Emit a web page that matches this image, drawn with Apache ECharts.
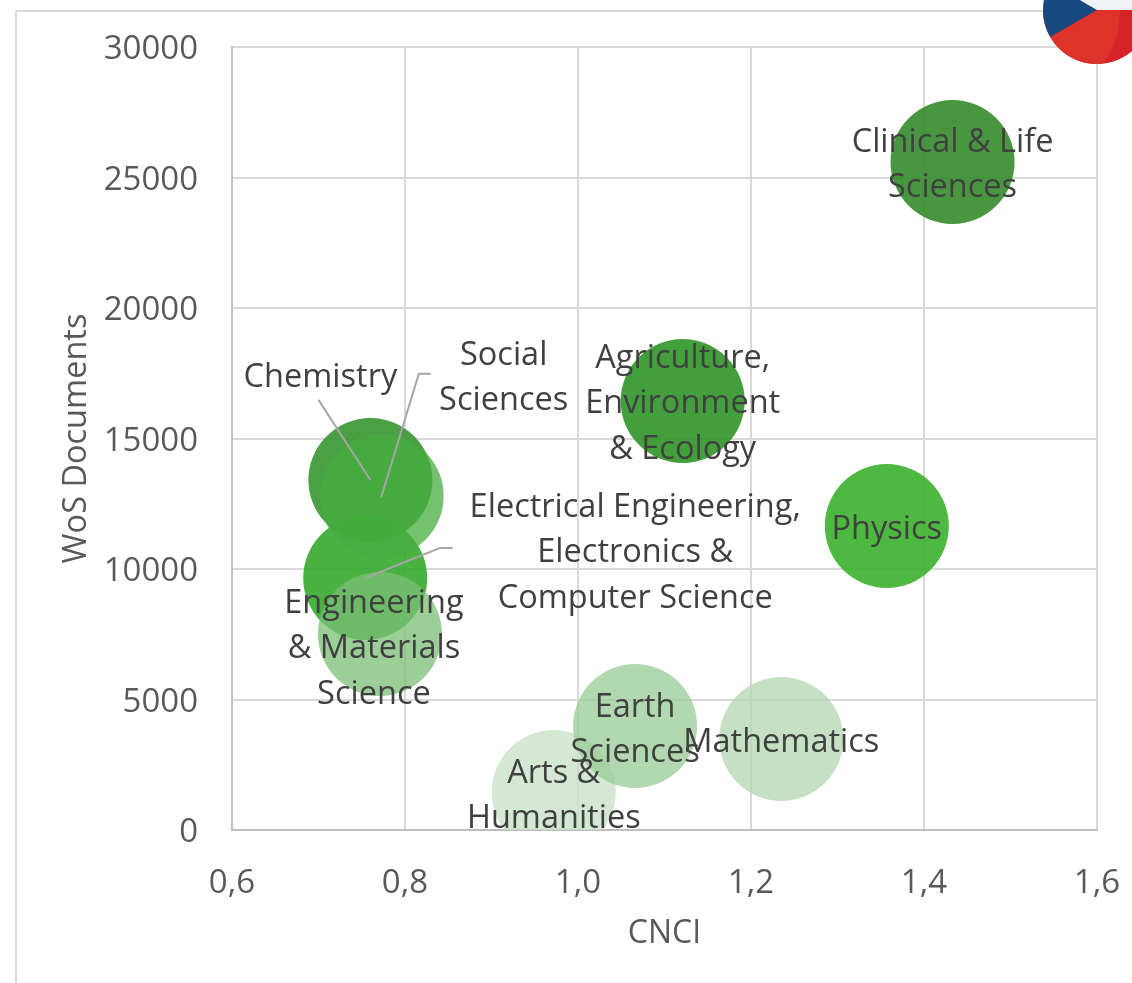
<!DOCTYPE html>
<html>
<head>
<meta charset="utf-8">
<title>WoS Documents vs CNCI</title>
<script src="https://cdn.jsdelivr.net/npm/echarts@6/dist/echarts.min.js"></script>
<style>
  html, body { margin: 0; padding: 0; background: #fff; }
  #chart { width: 1132px; height: 983px; }
</style>
</head>
<body>
<div id="chart"></div>
<script>
// values, in drawing order (later ones sit on top)
const fields = ['Arts & Humanities', 'Clinical & Life Sciences', 'Agriculture, Environment & Ecology', 'Chemistry', 'Physics',
  'Electrical Engineering, Electronics & Computer Science', 'Social Sciences',
  'Engineering & Materials Science', 'Earth Sciences', 'Mathematics']
const cnci = [0.972, 1.433, 1.121, 0.76, 1.357, 0.754, 0.773, 0.771, 1.066, 1.235]
const documents = [1456, 25594, 16437, 13410, 11648, 9655, 12797, 7510, 3985, 3487]

// leader lines, in data coordinates
const chemistryLeader = [[0.70, 16480], [0.76, 13410]]
const socialLeader = [[0.7725, 12750], [0.816, 17480], [0.83, 17480]]
const electricalLeader = [[0.754, 9655], [0.84, 10800], [0.855, 10800]]

const fieldColors = {
  'Clinical & Life Sciences': 'rgba(47,136,37,0.88)',
  'Agriculture, Environment & Ecology': 'rgba(40,146,32,0.88)',
  'Chemistry': 'rgba(50,146,43,0.88)',
  'Physics': 'rgba(52,175,37,0.88)',
  'Electrical Engineering, Electronics & Computer Science': 'rgba(49,167,37,0.88)',
  'Social Sciences': 'rgba(70,174,64,0.75)',
  'Engineering & Materials Science': 'rgba(123,191,118,0.75)',
  'Earth Sciences': 'rgba(151,203,147,0.75)',
  'Mathematics': 'rgba(178,214,175,0.75)',
  'Arts & Humanities': 'rgba(199,224,196,0.75)'
}

// where each label sits relative to its bubble centre, px
const labelOffset = {
  'Arts & Humanities': [0, 4],
  'Mathematics': [0, 4],
  'Earth Sciences': [0, 4],
  'Engineering & Materials Science': [-6, 15],
  'Social Sciences': [122, -118],
  'Electrical Engineering, Electronics & Computer Science': [270, -25],
  'Physics': [0, 4],
  'Chemistry': [-50, -102],
  'Agriculture, Environment & Ecology': [0, 3],
  'Clinical & Life Sciences': [0, 3]
}
const labelText = {
  'Arts & Humanities': 'Arts &\nHumanities',
  'Earth Sciences': 'Earth\nSciences',
  'Engineering & Materials Science': 'Engineering\n& Materials\nScience',
  'Social Sciences': 'Social\nSciences',
  'Electrical Engineering, Electronics & Computer Science': 'Electrical Engineering,\nElectronics &\nComputer Science',
  'Agriculture, Environment & Ecology': 'Agriculture,\nEnvironment\n& Ecology',
  'Clinical & Life Sciences': 'Clinical & Life\nSciences'
}

const FONT = '"Open Sans", sans-serif'
const BUBBLE_RADIUS = 62
const points = fields.map((name, i) => [cnci[i], documents[i]])
const chart = echarts.init(document.getElementById('chart'))

function leaderSeries(points) {
  return {
    type: 'line', data: points, symbol: 'none', silent: true, z: 5,
    lineStyle: { color: '#a6a6a6', width: 2 }
  }
}

// bubbles are cut off at the plot edge, scatter only drops whole points so use custom
function renderBubble(params, api) {
  const c = api.coord([api.value(0), api.value(1)])
  return {
    type: 'circle',
    shape: { cx: c[0], cy: c[1], r: BUBBLE_RADIUS },
    style: { fill: fieldColors[fields[params.dataIndex]] }
  }
}

// lighter part of the flag's red half: circle arc, closed by a shallow curve
function flagHighlight() {
  const cx = 1097, cy = 10, r = 54
  const pts = []
  for (let a = 180; a >= 82; a -= 4) {
    const t = a * Math.PI / 180
    pts.push([cx + r * Math.cos(t), cy + r * Math.sin(t)])
  }
  pts.push([1112, 50], [1118, 32], [1120, 10])
  return pts
}

chart.setOption({
  animation: false,
  backgroundColor: '#fff',
  grid: { left: 232, right: 35, top: 47, bottom: 153 },
  xAxis: {
    type: 'value', min: 0.6, max: 1.6, interval: 0.2,
    name: 'CNCI', nameLocation: 'middle', nameGap: 88,
    nameTextStyle: { color: '#595959', fontFamily: FONT, fontSize: 32 },
    axisLine: { onZero: false, lineStyle: { color: '#bfbfbf', width: 2 } },
    axisTick: { show: false },
    axisLabel: { color: '#595959', fontFamily: FONT, fontSize: 33, margin: 37,
      formatter: v => v.toFixed(1).replace('.', ',') },
    splitLine: { show: true, lineStyle: { color: '#d9d9d9', width: 2 } }
  },
  yAxis: {
    type: 'value', min: 0, max: 30000, interval: 5000,
    name: 'WoS Documents', nameLocation: 'middle', nameGap: 139,
    nameTextStyle: { color: '#595959', fontFamily: FONT, fontSize: 32.5 },
    axisLine: { show: true, lineStyle: { color: '#bfbfbf', width: 2 } },
    axisTick: { show: false },
    axisLabel: { margin: 34, formatter: v => '{tick|' + v + '}',
      rich: { tick: { color: '#595959', fontFamily: FONT, fontSize: 33, padding: [6, 0, 0, 0] } } },
    splitLine: { show: true, lineStyle: { color: '#d9d9d9', width: 2 } }
  },
  series: [
    { type: 'custom', clip: true, silent: true, z: 3, data: points, renderItem: renderBubble },
    leaderSeries(chemistryLeader),
    leaderSeries(socialLeader),
    leaderSeries(electricalLeader),
    // labels only, one per bubble
    ...fields.map((name, i) => ({
      type: 'scatter',
      name,
      z: 6,
      symbolSize: 1,
      data: [points[i]],
      itemStyle: { color: 'transparent', opacity: 1 },
      label: {
        show: true,
        position: 'inside',
        offset: labelOffset[name],
        formatter: labelText[name] || name,
        color: '#404040',
        fontFamily: FONT,
        fontSize: 32.5,
        lineHeight: 45.5,
        align: 'center',
        verticalAlign: 'middle'
      }
    }))
  ],
  graphic: [
    // outer frame of the slide picture
    { type: 'line', silent: true, shape: { x1: 16, y1: 11, x2: 1132, y2: 11 }, style: { stroke: '#d9d9d9', lineWidth: 2 } },
    { type: 'line', silent: true, shape: { x1: 16, y1: 11, x2: 16, y2: 983 }, style: { stroke: '#d9d9d9', lineWidth: 2 } },
    // flag badge
    { type: 'sector', silent: true, z: 20, shape: { cx: 1097, cy: 10, r: 54, startAngle: Math.PI, endAngle: 2 * Math.PI }, style: { fill: '#f0f1f3' } },
    { type: 'sector', silent: true, z: 20, shape: { cx: 1097, cy: 10, r: 54, startAngle: 0, endAngle: Math.PI }, style: { fill: '#d62327' } },
    { type: 'polygon', silent: true, z: 21, shape: { points: flagHighlight() }, style: { fill: '#dd332b' } },
    { type: 'sector', silent: true, z: 22, shape: { cx: 1097, cy: 10, r: 54, startAngle: Math.PI * 5 / 6, endAngle: Math.PI * 7 / 6 }, style: { fill: '#174a7e' } }
  ]
})
</script>
</body>
</html>
